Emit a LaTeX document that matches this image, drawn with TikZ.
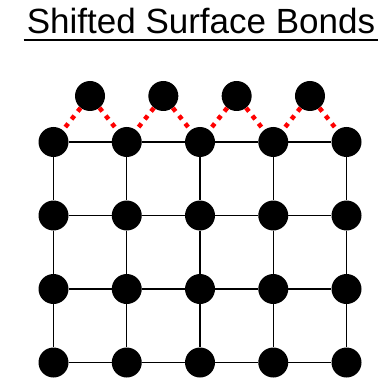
\documentclass[tikz,border=0pt]{standalone}
\usepackage{fontspec}
\setmainfont{Liberation Sans}
\usepackage{tikz}
\usetikzlibrary{positioning}
\definecolor{bondred}{RGB}{255,0,0}

\begin{document}
\begin{tikzpicture}[x=1pt,y=-1pt,
    atom/.style={circle, fill=black, inner sep=0pt, minimum size=30pt},
    latbond/.style={draw=black, line width=1.3pt},
    surfbond/.style={draw=bondred, line width=4.5pt, dash pattern=on 4.5pt off 5.5pt}]
  \useasboundingbox (0,0) rectangle (387,379);
  \node[anchor=base, inner sep=0pt, font=\fontsize{35}{40}\selectfont] (title) at (201,34) {Shifted Surface Bonds};
  \draw[line width=2pt] ([xshift=-3pt,yshift=-6pt]title.base west) -- ([xshift=3pt,yshift=-6pt]title.base east);

  % bulk lattice
  \foreach \i in {0,...,4}
    \foreach \j in {0,...,3}
      \node[atom] (a\i\j) at ({53.5+73.25*\i},{142+73.5*\j}) {};
  % shifted surface atoms
  \foreach \i in {0,...,3}
    \node[atom] (s\i) at ({90+73.33*\i},96) {};

  \foreach \i/\k in {0/1,1/2,2/3,3/4} {
    \foreach \j in {0,...,3}
      \draw[latbond] (a\i\j) -- (a\k\j);
    \draw[surfbond] (s\i) -- (a\i0);
    \draw[surfbond] (s\i) -- (a\k0);
  }
  \foreach \i in {0,...,4}
    \foreach \j/\m in {0/1,1/2,2/3}
      \draw[latbond] (a\i\j) -- (a\i\m);
\end{tikzpicture}
\end{document}
